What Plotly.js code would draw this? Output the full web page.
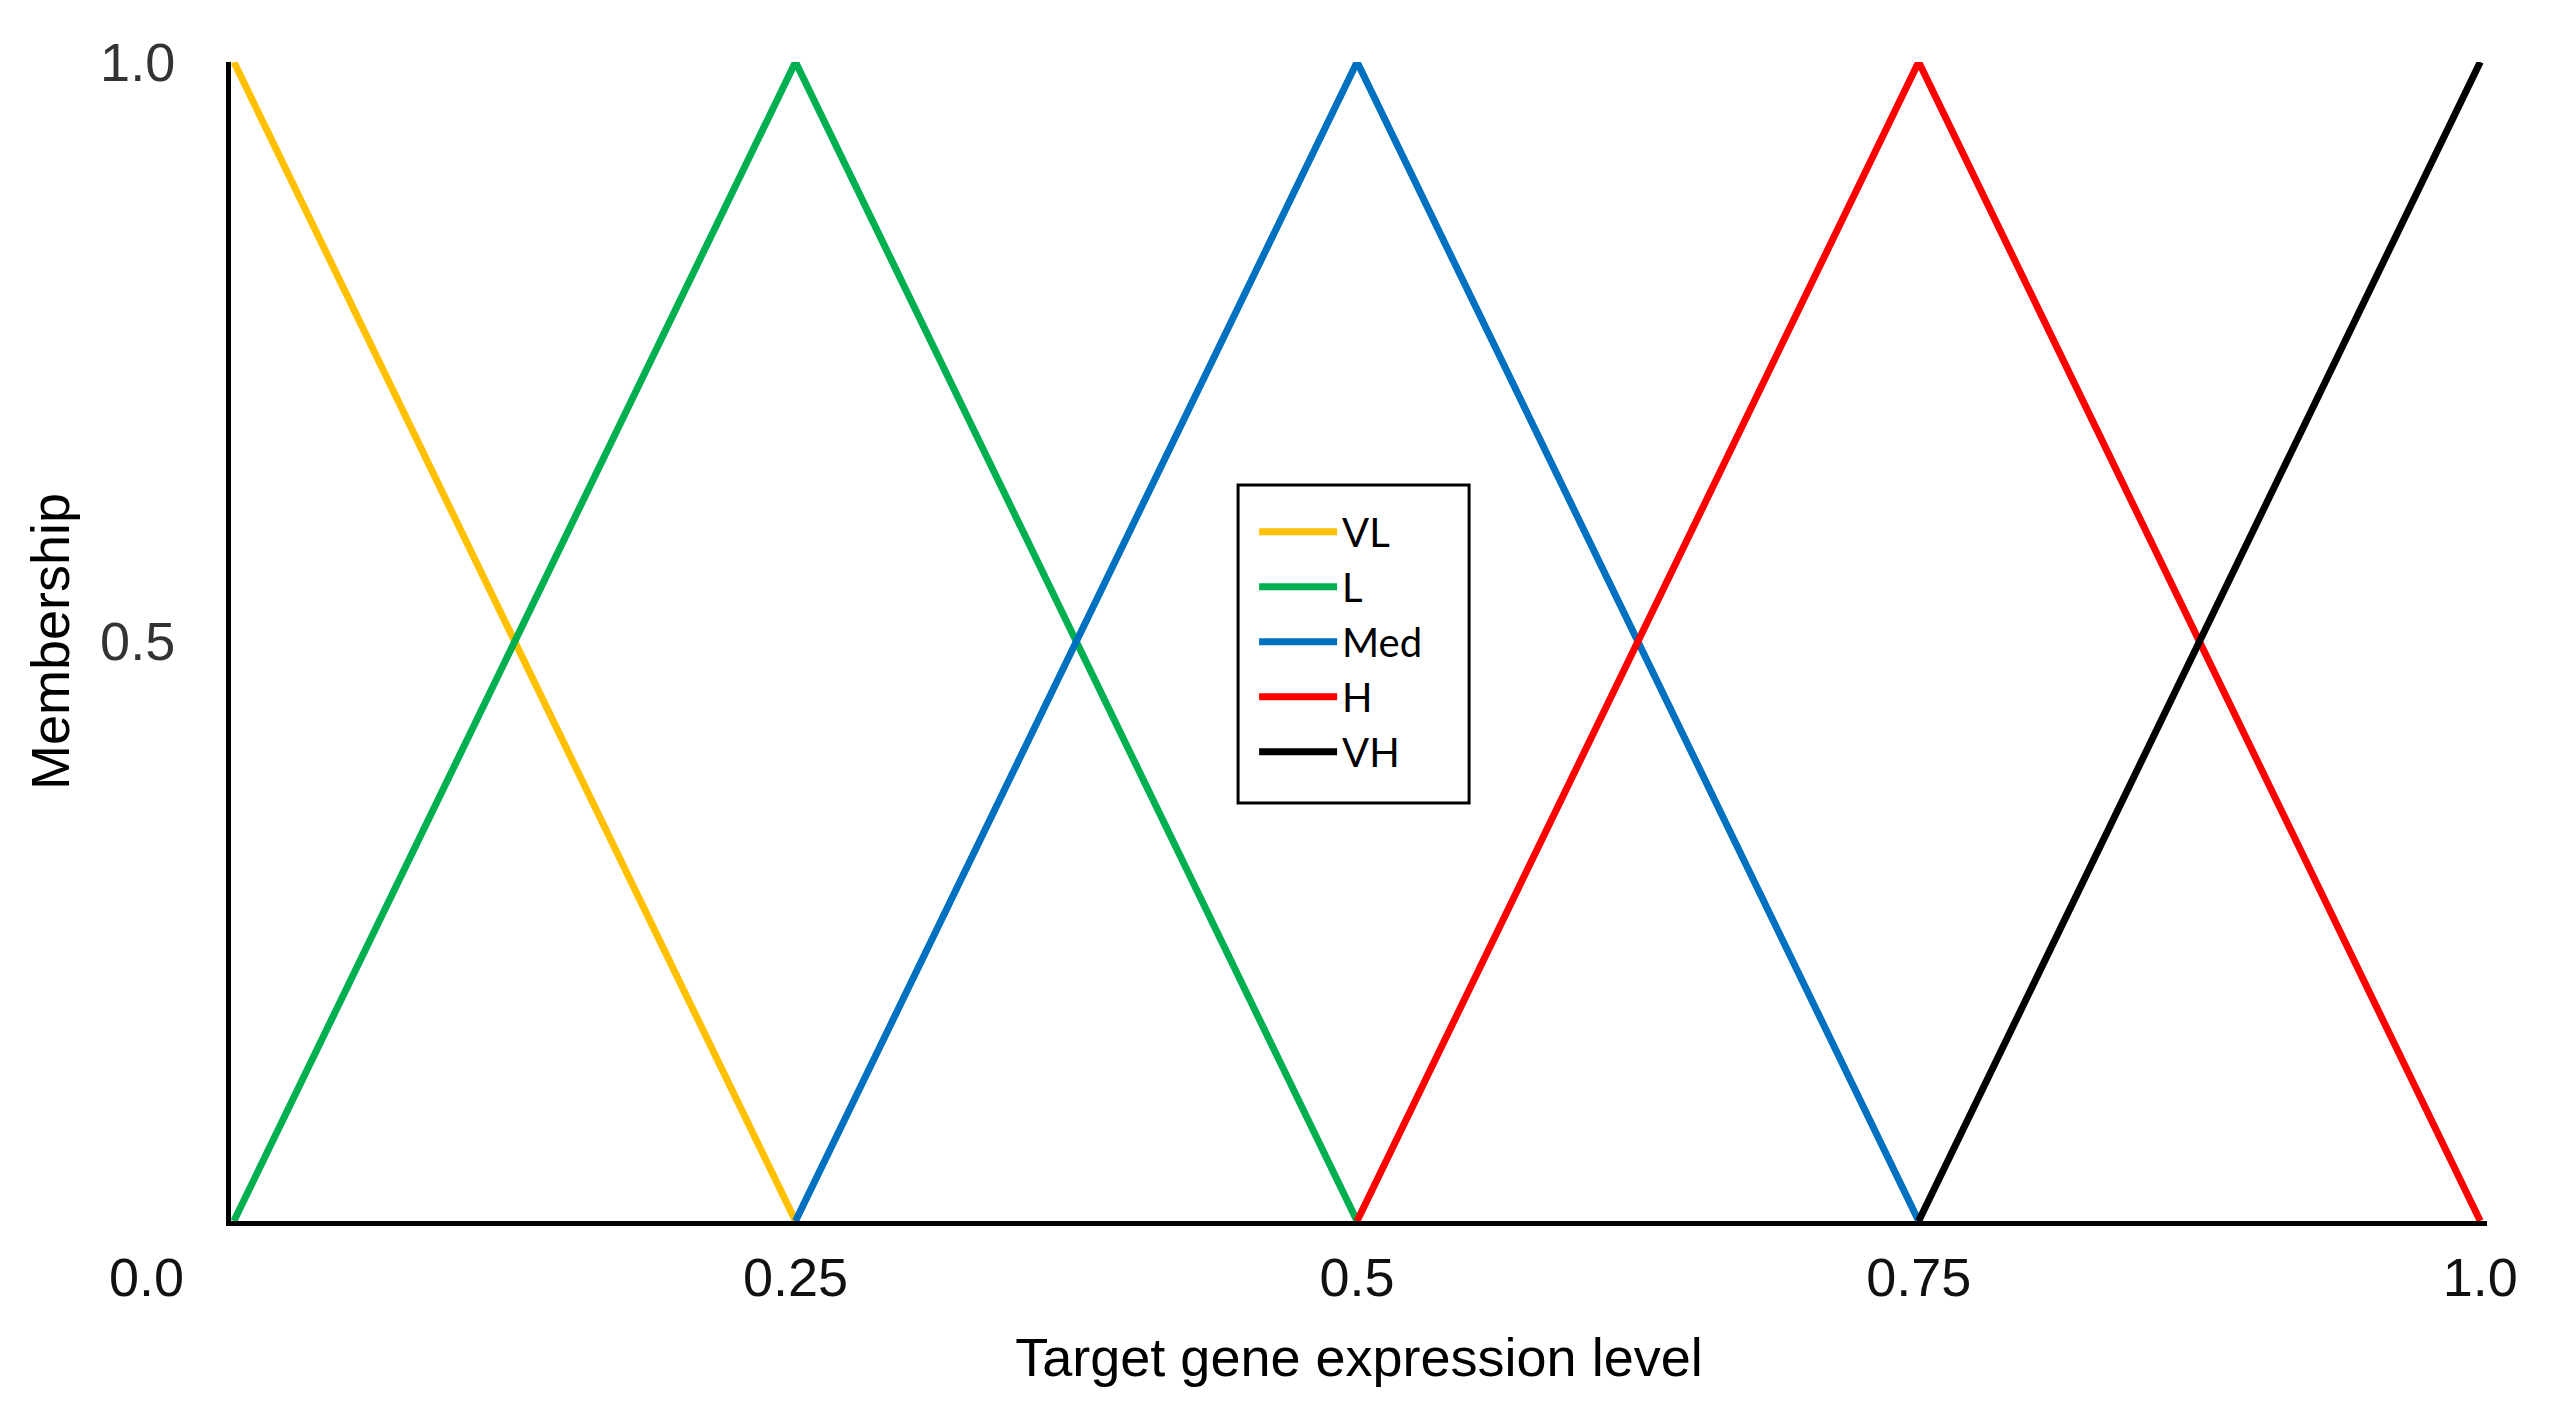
<!DOCTYPE html>
<html>
<head>
<meta charset="utf-8">
<script src="https://cdn.plot.ly/plotly-3.0.1.min.js"></script>
<style>html,body{margin:0;padding:0;background:#fff;}#chart{width:2566px;height:1407px;}</style>
</head>
<body>
<div id="chart"></div>
<script>
// Membership function data
const seriesNames = ["VL", "L", "Med", "H", "VH"];
const seriesColors = ["#FFC000", "#00B050", "#0070C0", "#FF0000", "#000000"];
const vlX = [0, 0.25];          const vlY = [1, 0];
const lX = [0, 0.25, 0.5];      const lY = [0, 1, 0];
const medX = [0.25, 0.5, 0.75]; const medY = [0, 1, 0];
const hX = [0.5, 0.75, 1.0];    const hY = [0, 1, 0];
const vhX = [0.75, 1.0];        const vhY = [0, 1];
const xTickVals = [0.25, 0.5, 0.75, 1.0];
const xTickText = ["0.25", "0.5", "0.75", "1.0"];
const yTickVals = [0.5, 1.0];
const yTickText = ["0.5", "1.0"];
const xTitle = "Target gene expression level";
const yTitle = "Membership";
const originLabel = "0.0";

const xs = [vlX, lX, medX, hX, vhX];
const ys = [vlY, lY, medY, hY, vhY];

const traces = seriesNames.map((n, i) => ({
  type: "scatter", mode: "lines", name: n,
  x: xs[i], y: ys[i],
  legendgroup: "g" + i,
  line: {color: seriesColors[i], width: 7},
  hoverinfo: "skip"
}));

const axisFont = {family: "Liberation Sans, Arial, sans-serif", size: 54, color: "#000"};

const layout = {
  width: 2566, height: 1407,
  margin: {l: 231, r: 79, t: 62, b: 186},
  paper_bgcolor: "#fff", plot_bgcolor: "#fff",
  showlegend: true,
  legend: {
    x: 0.4535, y: 0.6228, xanchor: "left", yanchor: "top",
    bgcolor: "rgba(0,0,0,0)", borderwidth: 0,
    font: {family: "Lato, Open Sans, sans-serif", size: 40, color: "#000"},
    tracegroupgap: 22, traceorder: "normal",
    itemwidth: 78
  },
  shapes: [{
    type: "rect", xref: "paper", yref: "paper",
    x0: 0.4464, x1: 0.5488, y0: 0.3607, y1: 0.635,
    line: {color: "#000", width: 3}, fillcolor: "#fff", layer: "above"
  }],
  xaxis: {
    range: [-0.0013, 1.003],
    showgrid: false, zeroline: false,
    showline: true, linecolor: "#000", linewidth: 5,
    tickvals: xTickVals, ticktext: xTickText, ticks: "",
    ticklabelstandoff: 5,
    tickfont: {family: axisFont.family, size: 54, color: "#111"},
    title: {text: xTitle, font: axisFont, standoff: 34},
    automargin: false, fixedrange: true
  },
  yaxis: {
    range: [0, 1],
    showgrid: false, zeroline: false,
    showline: true, linecolor: "#000", linewidth: 5,
    tickvals: yTickVals, ticktext: yTickText, ticks: "",
    ticklabelstandoff: 40,
    tickfont: {family: axisFont.family, size: 54, color: "#333"},
    title: {text: yTitle, font: axisFont, standoff: 15},
    automargin: false, fixedrange: true
  },
  annotations: [{
    text: originLabel, xref: "x", yref: "y", x: 0, y: 0,
    xanchor: "center", yanchor: "middle", xshift: -87, yshift: -56,
    showarrow: false, font: {family: axisFont.family, size: 54, color: "#111"}
  }]
};

Plotly.newPlot("chart", traces, layout, {displayModeBar: false, staticPlot: true});
</script>
</body>
</html>
